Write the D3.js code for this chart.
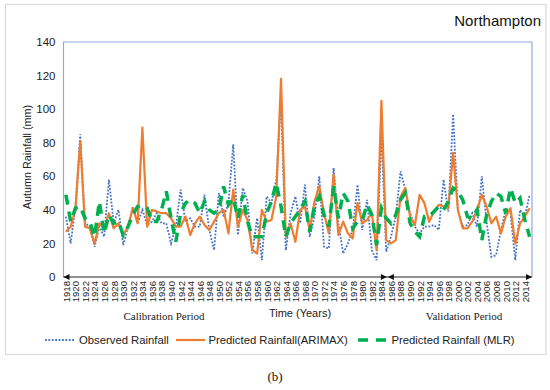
<!DOCTYPE html>
<html>
<head>
<meta charset="utf-8">
<script src="https://cdn.jsdelivr.net/npm/d3@7/dist/d3.min.js"></script>
<style>
  html, body { margin: 0; padding: 0; background: #fff; }
  svg { display: block; }
</style>
</head>
<body>
<script>
// ---- Data ----
const years = d3.range(1918, 2016);
const xTickYears = d3.range(1918, 2015, 2);
const yTicks = [0, 20, 40, 60, 80, 100, 120, 140];

const observed = [36,20,42,85,32,30,18,30,24,58,32,40,19,30,42,32,40,31,33,38,
  32,32,20,30,52,33,35,30,30,49,28,16,50,36,44,79,25,53,45,14,
  35,10,48,44,58,105,16,38,48,32,55,24,36,60,18,17,65,32,14,20,
  28,55,28,46,16,10,85,15,24,36,63,52,38,30,26,30,30,31,28,58,
  39,97,40,30,31,38,30,60,33,12,13,28,40,38,10,40,36,49];

const arimax = [27,30,40,81,30,29,20,32,29,38,29,32,25,30,41,32,89,30,40,39,
  38,38,35,30,30,36,25,32,36,31,28,33,38,40,26,52,30,40,34,16,
  14,40,33,34,48,118,24,32,21,40,42,28,45,54,38,26,61,25,33,26,
  23,44,32,34,38,16,105,22,20,22,48,53,36,31,49,44,33,39,43,42,
  41,74,40,29,29,33,40,49,42,32,36,26,36,41,20,32,36,41];

const mlr = [49,33,41,42,35,33,24,45,26,37,32,33,25,30,37,42,42,41,33,33,
  40,51,35,21,38,44,46,44,38,45,40,38,40,54,43,47,35,49,33,24,
  24,24,38,45,56,42,24,32,36,40,45,27,42,48,37,30,54,35,50,45,
  29,33,34,43,37,19,41,35,32,37,46,50,32,27,24,36,36,39,42,40,
  45,53,51,46,36,35,40,22,37,45,50,48,38,53,44,47,34,24];

const seriesNames = ["Observed Rainfall", "Predicted Rainfall(ARIMAX)", "Predicted Rainfall (MLR)"];
const calibEndYear = 1984;
const validStartYear = 1985;

// ---- Layout ----
const W = 550, H = 390;
const L = 63.5, R = 532, T = 42, B = 277;
const sans = "'Liberation Sans', Arial, sans-serif";
const serif = "'Liberation Serif', 'Times New Roman', serif";

const svg = d3.select("body").append("svg").attr("width", W).attr("height", H);

// outer frame
svg.append("rect").attr("x", 5.5).attr("y", 4.5).attr("width", 540.5).attr("height", 350)
  .attr("fill", "#fff").attr("stroke", "#d9d9d9").attr("stroke-width", 1.2);

const x = d3.scalePoint().domain(years).range([L, R]).padding(0.5);
const y = d3.scaleLinear().domain([0, 140]).range([B, T]);

// plot border (left, top, right)
svg.append("path").attr("d", `M${L},${B}V${T}H${R}V${B}`)
  .attr("fill", "none").attr("stroke", "#8FAADC").attr("stroke-width", 1.2);

// y axis labels
const yAxis = svg.append("g").attr("transform", `translate(${L},0)`)
  .call(d3.axisLeft(y).tickValues(yTicks).tickSize(0).tickPadding(8));
yAxis.select(".domain").remove();
yAxis.selectAll("text").attr("font-family", sans).attr("font-size", 11.5).attr("fill", "#222");

// x axis labels
const xAxis = svg.append("g").attr("transform", `translate(0,${B})`)
  .call(d3.axisBottom(x).tickValues(xTickYears).tickSize(0));
xAxis.select(".domain").remove();
xAxis.selectAll("text")
  .attr("font-family", sans).attr("font-size", 9.6).attr("fill", "#222")
  .attr("text-anchor", "end")
  .attr("transform", "rotate(-90)")
  .attr("x", -4).attr("y", 0).attr("dy", "0.35em");

// series lines
const line = d3.line().x((d, i) => x(years[i])).y(d => y(d));
svg.append("path").datum(observed).attr("d", line)
  .attr("fill", "none").attr("stroke", "#4472C4").attr("stroke-width", 1.8)
  .attr("stroke-dasharray", "1.8,1.6");
svg.append("path").datum(arimax).attr("d", line)
  .attr("fill", "none").attr("stroke", "#ED7D31").attr("stroke-width", 2.2)
  .attr("stroke-linejoin", "round");
svg.append("path").datum(mlr).attr("d", line)
  .attr("fill", "none").attr("stroke", "#00B050").attr("stroke-width", 3.5)
  .attr("stroke-dasharray", "10,7");

// x axis line with period arrows
const bx = (x(calibEndYear) + x(validStartYear)) / 2 + 3.6;
svg.append("line").attr("x1", L).attr("x2", R).attr("y1", B).attr("y2", B)
  .attr("stroke", "#222").attr("stroke-width", 1);
const ah = 6, aw = 3;
const arrows = [
  [L, -1], [bx - 0.5, 1], [bx + 0.5, -1], [R, 1]
];
svg.selectAll("path.arrow").data(arrows).join("path").attr("class", "arrow")
  .attr("d", d => `M${d[0]},${B}L${d[0] - d[1] * ah},${B - aw}L${d[0] - d[1] * ah},${B + aw}Z`)
  .attr("fill", "#111");

// title
svg.append("text").attr("x", 541).attr("y", 26).attr("text-anchor", "end")
  .attr("font-family", sans).attr("font-size", 15).attr("fill", "#111").text("Northampton");

// axis titles
svg.append("text").attr("transform", `translate(31,157) rotate(-90)`)
  .attr("text-anchor", "middle").attr("font-family", sans).attr("font-size", 10.8)
  .attr("fill", "#222").text("Autumn Rainfall (mm)");
svg.append("text").attr("x", 300).attr("y", 317).attr("text-anchor", "middle")
  .attr("font-family", sans).attr("font-size", 11).attr("fill", "#222").text("Time (Years)");
svg.append("text").attr("x", 164).attr("y", 320).attr("text-anchor", "middle")
  .attr("font-family", serif).attr("font-size", 11).attr("fill", "#222").text("Calibration Period");
svg.append("text").attr("x", 464).attr("y", 320).attr("text-anchor", "middle")
  .attr("font-family", serif).attr("font-size", 11).attr("fill", "#222").text("Validation Period");

// legend
const legendY = 340;
const legendItems = [
  { name: seriesNames[0], x0: 45, x1: 75, tx: 79, color: "#4472C4", w: 1.8, dash: "1.8,1.6" },
  { name: seriesNames[1], x0: 176, x1: 205, tx: 208.5, color: "#ED7D31", w: 2.2, dash: null },
  { name: seriesNames[2], x0: 358, x1: 387, tx: 391.5, color: "#00B050", w: 3.5, dash: "10,8" }
];
const lg = svg.append("g");
legendItems.forEach(it => {
  lg.append("line").attr("x1", it.x0).attr("x2", it.x1).attr("y1", legendY).attr("y2", legendY)
    .attr("stroke", it.color).attr("stroke-width", it.w)
    .attr("stroke-dasharray", it.dash);
  lg.append("text").attr("x", it.tx).attr("y", legendY + 4)
    .attr("font-family", sans).attr("font-size", 11.3).attr("fill", "#222").text(it.name);
});

// caption
svg.append("text").attr("x", 275).attr("y", 381).attr("text-anchor", "middle")
  .attr("font-family", serif).attr("font-size", 13).attr("fill", "#111").text("(b)");
</script>
</body>
</html>
